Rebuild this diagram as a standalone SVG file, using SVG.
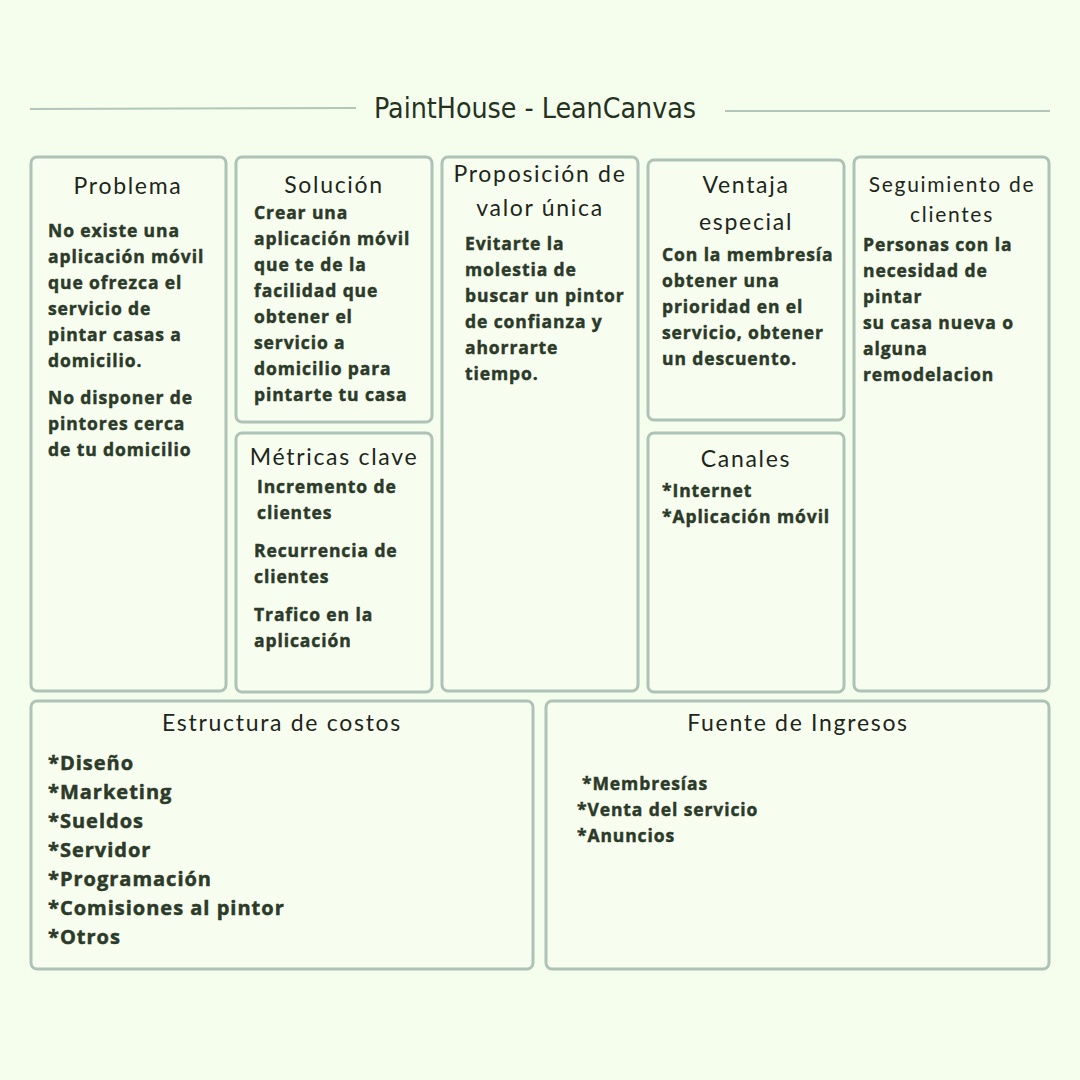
<svg xmlns="http://www.w3.org/2000/svg" width="1080" height="1080" viewBox="0 0 1080 1080">
<style>
.bg{fill:#f5fdec}
.box{fill:#f7fdef;stroke:#aec2b7;stroke-width:3}
.rule{stroke:#b2c6ba;stroke-width:2}
.title{font-family:"DejaVu Sans Condensed","Liberation Sans Narrow","Open Sans",sans-serif;font-size:28px;fill:#24321f}
.h{font-family:"Lato","Noto Sans",sans-serif;font-weight:400;font-size:23px;letter-spacing:1.7px;fill:#1e261c;text-anchor:middle}
.b{font-family:"Open Sans","Noto Sans",sans-serif;font-weight:700;font-size:17.5px;letter-spacing:0.9px;fill:#2c3a29;stroke:#2c3a29;stroke-width:0.45px}
.bl{font-family:"Open Sans","Noto Sans",sans-serif;font-weight:700;font-size:20px;letter-spacing:1px;fill:#2c3a29;stroke:#2c3a29;stroke-width:0.5px}
</style>
<rect class="bg" x="0" y="0" width="1080" height="1080"/>
<g id="title">
<line class="rule" x1="30" y1="109" x2="356" y2="108"/>
<line class="rule" x1="725" y1="111" x2="1050" y2="111"/>
<text class="title" x="535" y="118" text-anchor="middle" textLength="322" lengthAdjust="spacingAndGlyphs">PaintHouse - LeanCanvas</text>
</g>
<g id="problema">
<rect class="box" x="31" y="157" width="195" height="534" rx="6"/>
<text class="h" x="128" y="194">Problema</text>
<text class="b" x="48" y="237">No existe una</text>
<text class="b" x="48" y="263">aplicación móvil</text>
<text class="b" x="48" y="289">que ofrezca el</text>
<text class="b" x="48" y="315">servicio de</text>
<text class="b" x="48" y="341">pintar casas a</text>
<text class="b" x="48" y="367">domicilio.</text>
<text class="b" x="48" y="404">No disponer de</text>
<text class="b" x="48" y="430">pintores cerca</text>
<text class="b" x="48" y="456">de tu domicilio</text>
</g>
<g id="solucion">
<rect class="box" x="236" y="157" width="196" height="265" rx="6"/>
<text class="h" x="334" y="193">Solución</text>
<text class="b" x="254" y="219">Crear una</text>
<text class="b" x="254" y="245">aplicación móvil</text>
<text class="b" x="254" y="271">que te de la</text>
<text class="b" x="254" y="297">facilidad que</text>
<text class="b" x="254" y="323">obtener el</text>
<text class="b" x="254" y="349">servicio a</text>
<text class="b" x="254" y="375">domicilio para</text>
<text class="b" x="254" y="401">pintarte tu casa</text>
</g>
<g id="metricas">
<rect class="box" x="236" y="433" width="196" height="259" rx="6"/>
<text class="h" x="334" y="465">Métricas clave</text>
<text class="b" x="257" y="493">Incremento de</text>
<text class="b" x="257" y="519">clientes</text>
<text class="b" x="254" y="557">Recurrencia de</text>
<text class="b" x="254" y="583">clientes</text>
<text class="b" x="254" y="621">Trafico en la</text>
<text class="b" x="254" y="647">aplicación</text>
</g>
<g id="proposicion">
<rect class="box" x="442" y="157" width="196" height="534" rx="6"/>
<text class="h" x="540" y="182">Proposición de</text>
<text class="h" x="540" y="216">valor única</text>
<text class="b" x="465" y="250">Evitarte la</text>
<text class="b" x="465" y="276">molestia de</text>
<text class="b" x="465" y="302">buscar un pintor</text>
<text class="b" x="465" y="328">de confianza y</text>
<text class="b" x="465" y="354">ahorrarte</text>
<text class="b" x="465" y="380">tiempo.</text>
</g>
<g id="ventaja">
<rect class="box" x="648" y="160" width="196" height="260" rx="6"/>
<text class="h" x="746" y="193">Ventaja</text>
<text class="h" x="746" y="230">especial</text>
<text class="b" x="662" y="261">Con la membresía</text>
<text class="b" x="662" y="287">obtener una</text>
<text class="b" x="662" y="313">prioridad en el</text>
<text class="b" x="662" y="339">servicio, obtener</text>
<text class="b" x="662" y="365">un descuento.</text>
</g>
<g id="canales">
<rect class="box" x="648" y="433" width="196" height="259" rx="6"/>
<text class="h" x="746" y="467">Canales</text>
<text class="b" x="662" y="497">*Internet</text>
<text class="b" x="662" y="523">*Aplicación móvil</text>
</g>
<g id="seguimiento">
<rect class="box" x="854" y="157" width="195" height="534" rx="6"/>
<text class="h" x="952" y="192" style="font-size:21px">Seguimiento de</text>
<text class="h" x="952" y="222" style="font-size:21px">clientes</text>
<text class="b" x="863" y="251">Personas con la</text>
<text class="b" x="863" y="277">necesidad de</text>
<text class="b" x="863" y="303">pintar</text>
<text class="b" x="863" y="329">su casa nueva o</text>
<text class="b" x="863" y="355">alguna</text>
<text class="b" x="863" y="381">remodelacion</text>
</g>
<g id="estructura">
<rect class="box" x="31" y="701" width="502" height="268" rx="6"/>
<text class="h" x="282" y="731">Estructura de costos</text>
<text class="bl" x="48" y="770">*Diseño</text>
<text class="bl" x="48" y="799">*Marketing</text>
<text class="bl" x="48" y="828">*Sueldos</text>
<text class="bl" x="48" y="857">*Servidor</text>
<text class="bl" x="48" y="886">*Programación</text>
<text class="bl" x="48" y="915">*Comisiones al pintor</text>
<text class="bl" x="48" y="944">*Otros</text>
</g>
<g id="fuente">
<rect class="box" x="546" y="701" width="503" height="268" rx="6"/>
<text class="h" x="798" y="731">Fuente de Ingresos</text>
<text class="b" x="582" y="790">*Membresías</text>
<text class="b" x="577" y="816">*Venta del servicio</text>
<text class="b" x="577" y="842">*Anuncios</text>
</g>
<g id="connectors"/>
</svg>
